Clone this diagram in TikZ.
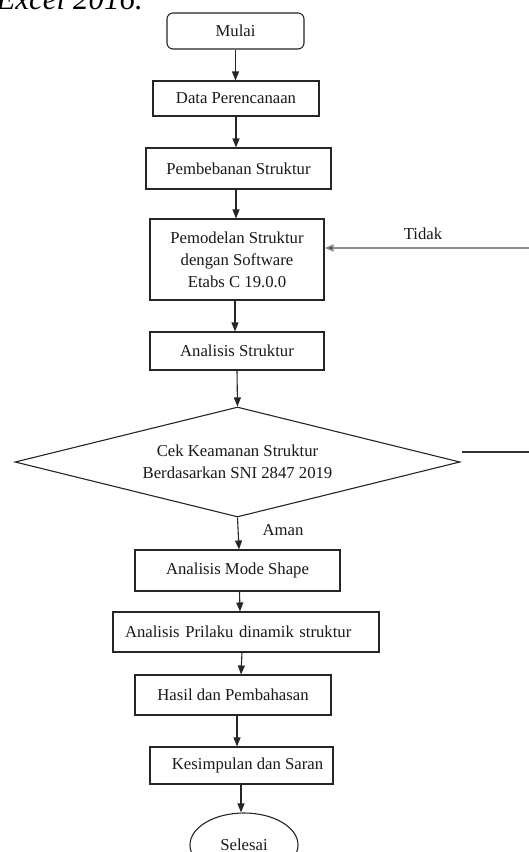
\documentclass[tikz,border=0pt]{standalone}
\usepackage{fontspec}
\setmainfont{Liberation Serif}
\usetikzlibrary{shapes.geometric,arrows.meta}
\begin{document}
\begin{tikzpicture}[x=1pt,y=-1pt,
  txt/.style={font=\fontsize{16.7}{22}\selectfont, text=black!90},
  box/.style={txt, draw=black!85, line width=1.1pt, fill=white, inner sep=0pt, align=center},
  arr/.style={draw=black!85, line width=1.1pt, -{Triangle[length=9pt,width=7pt]}},
  grayarr/.style={draw=black!45, line width=1.6pt, -{Triangle[length=9pt,width=7pt,fill=black!85]}},
  plain/.style={draw=black!80, line width=1.2pt}]
\useasboundingbox (0,0) rectangle (529,852);

\node[font=\fontsize{31}{31}\selectfont\itshape, anchor=base east, inner sep=0pt] (head) at (143,9) {Excel 2016.};

\node[box, rounded corners=6pt, minimum width=137pt, minimum height=36pt] (mulai) at (235.5,31) {Mulai};
\node[box, minimum width=166pt, minimum height=35pt] (data) at (236,98.5) {Data Perencanaan};
\node[box, minimum width=185pt, minimum height=41pt] (beban) at (238.5,168.5) {Pembebanan Struktur};
\node[box, minimum width=174pt, minimum height=81pt] (model) at (237,259.5) {Pemodelan Struktur\\dengan Software\\Etabs C 19.0.0};
\node[box, minimum width=174pt, minimum height=38pt] (anal) at (237,351) {Analisis Struktur};
\node[box, diamond, shape aspect=4, minimum width=445pt, minimum height=110pt] (cek) at (237.5,462) {Cek Keamanan Struktur\\Berdasarkan SNI 2847 2019};
\node[box, minimum width=205pt, minimum height=41pt] (mode) at (237.5,570.5) {Analisis Mode Shape};
\node[box, minimum width=266pt, minimum height=40pt, text width=242pt, inner xsep=12pt, align=left] (prilaku) at (246,632) {Analisis Prilaku dinamik struktur};
\node[box, minimum width=196pt, minimum height=40pt] (hasil) at (233,695) {Hasil dan Pembahasan};
\node[box, minimum width=183pt, minimum height=37pt] (kesim) at (241.5,765.5) {\hspace*{12pt}Kesimpulan dan Saran};
\node[box, ellipse, minimum width=108pt, minimum height=64pt] (selesai) at (244,845) {Selesai};

\draw[arr] (mulai.south) -- (mulai.south |- data.north);
\draw[arr] (data.south) -- (data.south |- beban.north);
\draw[arr] ([xshift=-2.5pt]beban.south) -- ([xshift=-2.5pt]beban.south |- model.north);
\draw[arr] ([xshift=-2pt]model.south) -- ([xshift=-2pt]model.south |- anal.north);
\draw[arr] (anal.south) -- (cek.north);
\draw[arr] (cek.south) -- ([xshift=1.5pt]mode.north);
\draw[arr] ([xshift=2pt]mode.south) -- ([xshift=2.5pt]mode.south |- prilaku.north);
\draw[arr] ([xshift=-4pt]prilaku.south) -- ([xshift=-5pt]prilaku.south |- hasil.north);
\draw[arr] ([xshift=4pt]hasil.south) -- ([xshift=4pt]hasil.south |- kesim.north);
\draw[arr] ([xshift=-0.5pt]kesim.south) -- ([xshift=-0.5pt]kesim.south |- selesai.north);

\coordinate (tidakR) at (535,248);
\draw[grayarr] (tidakR) -- (tidakR -| model.east);
\node[txt, anchor=center] (tidak) at (423,234) {Tidak};

\coordinate (cekR1) at (462,452);
\coordinate (cekR2) at (535,452);
\draw[plain] (cekR1) -- (cekR2);

\node[txt] (aman) at (283,530) {Aman};
\end{tikzpicture}
\end{document}
